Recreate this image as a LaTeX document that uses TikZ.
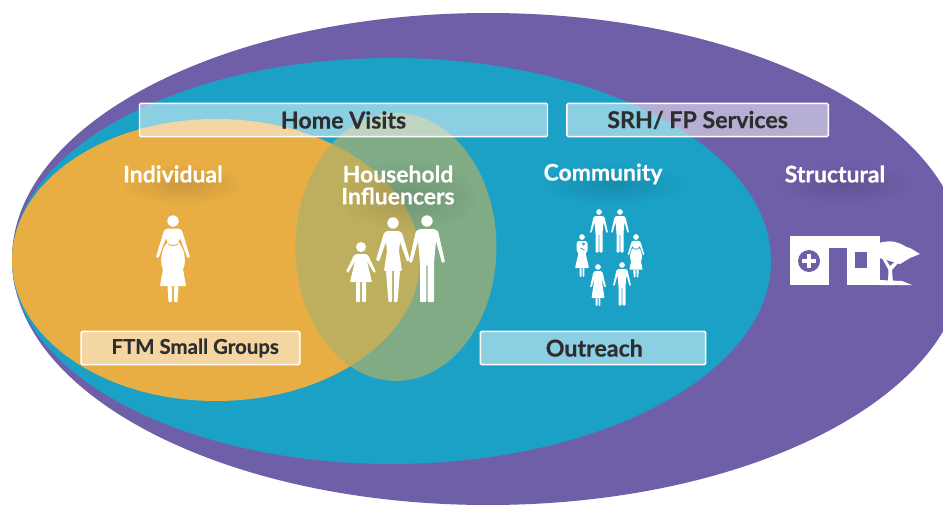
\documentclass[tikz,border=0pt]{standalone}
\usepackage{fontspec}
\usepackage{xcolor}
\usepackage{tikz}
\usetikzlibrary{positioning, fadings}
\setmainfont{Lato}[BoldFont={Lato Bold}, BoldFeatures={FakeBold=0.5}]
\definecolor{MapPurple}{HTML}{6F5FA8}
\definecolor{MapTeal}{HTML}{1BA0C6}
\definecolor{MapOrange}{HTML}{E8AE44}
\definecolor{MapGreen}{HTML}{ABB069}
\definecolor{MapInk}{HTML}{2E2E30}
\tikzfading[name=softblur, inner color=transparent!0, outer color=transparent!100]
\tikzset{
    levellabel/.style={
        text=white, font=\fontsize{17.2}{16.5}\selectfont\bfseries, align=center, inner sep=0pt
    },
    servicebox/.style={
        draw=white, line width=1.1pt, fill=white, fill opacity=0.5, draw opacity=1, text opacity=1,
        rounded corners=1pt, minimum height=25pt, inner sep=0pt, text=MapInk,
        font=\fontsize{17.4}{18}\selectfont\bfseries
    },
    softshadow/.style={
        fill=black, opacity=0.12, path fading=softblur
    },
    figfill/.style={
        fill=white, rounded corners=0.7pt
    },
    pics/manfig/.style={code={
        \fill[white] (0,0) circle (5.7);
        \fill[figfill] (-7,8) -- (7,8) -- (11,10) -- (18,41) -- (15,42) -- (9,20) -- (7,42) -- (7,81) -- (0.7,81) -- (0.7,44)
            -- (-0.7,44) -- (-0.7,81) -- (-7,81) -- (-7,42) -- (-9,20) -- (-15,42) -- (-18,41) -- (-11,10) -- cycle;
    }},
    pics/womanfig/.style={code={
        \fill[white] (0,0) circle (5.7);
        \fill[figfill] (-6,8) -- (6,8) -- (9,10) -- (17,37) -- (14,38.5) -- (7,19) -- (6,28) -- (9,48)
            -- (-9,48) -- (-6,28) -- (-7,19) -- (-14,38.5) -- (-17,37) -- (-9,10) -- cycle;
        \fill[figfill] (7,48) -- (4.5,79) -- (1,79) -- (1,48) -- cycle;
        \fill[figfill] (-7,48) -- (-4.5,79) -- (-1,79) -- (-1,48) -- cycle;
    }},
    pics/childfig/.style={code={
        \fill[white] (0,0) circle (5);
        \fill[figfill] (-5,7) -- (5,7) -- (7.5,9) -- (15,25) -- (13,26) -- (6,14) -- (11,35)
            -- (-11,35) -- (-6,14) -- (-13,26) -- (-15,25) -- (-7.5,9) -- cycle;
        \fill[figfill] (5,35) -- (5,55) -- (1,55) -- (1,35) -- cycle;
        \fill[figfill] (-5,35) -- (-5,55) -- (-1,55) -- (-1,35) -- cycle;
    }},
    pics/pregfig/.style={code={
        \fill[white] (0,0) circle (5.7);
        \fill[figfill] (-6,7.5) -- (6,7.5) -- (9,9.5) -- (17,36) -- (14.5,37) -- (7,17) -- (5,22) -- (-5,22) -- (-7,17)
            -- (-14.5,37) -- (-17,36) -- (-9,9.5) -- cycle;
        \fill[white] (-5,21) .. controls (-13,28) and (-13,44) .. (-10,48) -- (-13,65) -- (13,65) -- (10,48)
            .. controls (13,44) and (13,28) .. (5,21) -- cycle;
        \draw[#1, line width=0.6pt] (-5,23) .. controls (-2,25) and (2,25) .. (5,23);
        \fill[figfill] (5.5,65) -- (4.5,81) -- (1,81) -- (1,65) -- cycle;
        \fill[figfill] (-5.5,65) -- (-4.5,81) -- (-1,81) -- (-1,65) -- cycle;
    }},
    pics/gownfig/.style={code={
        \fill[white] (0,0) circle (5.7);
        \fill[figfill] (-6,8) -- (6,8) -- (9,10) -- (16,40) -- (13,41) -- (7,22) -- (13,62)
            -- (-13,62) -- (-7,22) -- (-13,41) -- (-16,40) -- (-9,10) -- cycle;
        \fill[figfill] (5,62) -- (4.5,78) -- (1,78) -- (1,62) -- cycle;
        \fill[figfill] (-5,62) -- (-4.5,78) -- (-1,78) -- (-1,62) -- cycle;
    }},
    pics/motherfig/.style={code={
        \fill[white] (0,0) circle (5.7);
        \fill[figfill] (-7,8) -- (7,8) -- (11,11) -- (11,28) -- (7,32) -- (14,62)
            -- (-14,62) -- (-7,32) -- (-11,28) -- (-11,11) -- cycle;
        \fill[figfill] (5,62) -- (4.5,80) -- (1,80) -- (1,62) -- cycle;
        \fill[figfill] (-5,62) -- (-4.5,80) -- (-1,80) -- (-1,62) -- cycle;
        \draw[MapTeal, line width=0.6pt] (-3,22) -- (5,26) (3,14) circle (2.2);
    }}
}
\begin{document}
\begin{tikzpicture}[x=0.75pt, y=-0.75pt]
    \useasboundingbox (0,0) rectangle (943,504);
    \clip (0,0) rectangle (943,504);
    % nested levels
    \fill[MapPurple] (488,259) ellipse [x radius=476, y radius=246];
    \fill[MapTeal] (391.5,261) ellipse [x radius=379.5, y radius=203];
    \fill[MapOrange] (216,260) ellipse [x radius=204, y radius=141];
    \fill[MapGreen, opacity=0.7] (396,247) ellipse [x radius=100.5, y radius=134];
    % blurred shadows behind the labels
    \fill[softshadow] (183,184) ellipse [x radius=62, y radius=20];
    \fill[softshadow] (408,196) ellipse [x radius=70, y radius=36];
    \fill[softshadow] (613,184) ellipse [x radius=72, y radius=20];
    \fill[softshadow] (845,184) ellipse [x radius=68, y radius=20];
    % labels
    \node[levellabel] (individual) at (173,174) {Individual};
    \node[levellabel] (household) at (398,185) {Household\\Influencers};
    \node[levellabel] (community) at (603,174) {Community};
    \node[levellabel] (structural) at (835,174) {Structural};
    % service boxes
    \node[servicebox, minimum width=306pt] (homevisits) at (343.5,120) {Home Visits};
    \node[servicebox, minimum width=196pt, right=13.5pt of homevisits] (srhfp) {SRH/ FP Services};
    \node[servicebox, minimum width=164pt, font=\fontsize{15.3}{18}\selectfont\bfseries] (ftmgroups) at (190.5,348) {\hspace{7pt}FTM Small Groups};
    \node[servicebox, minimum width=169pt] (outreach) at (593,348) {\hspace{2pt}Outreach};
    % people
    \pic at (173,221) {pregfig=MapOrange};
    \pic at (361,247) {childfig};
    \pic at (393,223) {womanfig};
    \pic at (427,221) {manfig};
    \pic[scale=0.5] at (599,212) {manfig};
    \pic[scale=0.5] at (620,212) {manfig};
    \pic[scale=0.5] at (582,237) {motherfig};
    \pic[scale=0.5] at (636,237) {pregfig=MapTeal};
    \pic[scale=0.5] at (598,267) {gownfig};
    \pic[scale=0.5] at (622,265) {manfig};
    % clinic and tree
    \fill[white] (790,236) rectangle (880,285);
    \fill[MapPurple] (829,248) rectangle (847,285);
    \fill[MapPurple] (855,252) rectangle (867,268);
    \fill[MapPurple] (809,261) circle (11);
    \fill[white] (807,254) rectangle (811,268);
    \fill[white] (802,259) rectangle (816,263);
    \fill[white] (879,243) .. controls (885,241) and (892,241) .. (895,242) .. controls (902,243) and (906,248) .. (910,248)
        -- (920,254) .. controls (915,256) and (912,257) .. (910,258) -- (900,264) -- (893,262) -- (883,259) -- (879,258) -- cycle;
    \fill[white] (888,283) -- (888.5,270) -- (882,258) -- (885,258) -- (890,266) -- (897,260) -- (900,261) -- (892,270) -- (893,283) -- cycle;
    \fill[white] (879,280) -- (902,281) -- (912,285) -- (879,285) -- cycle;
\end{tikzpicture}
\end{document}
